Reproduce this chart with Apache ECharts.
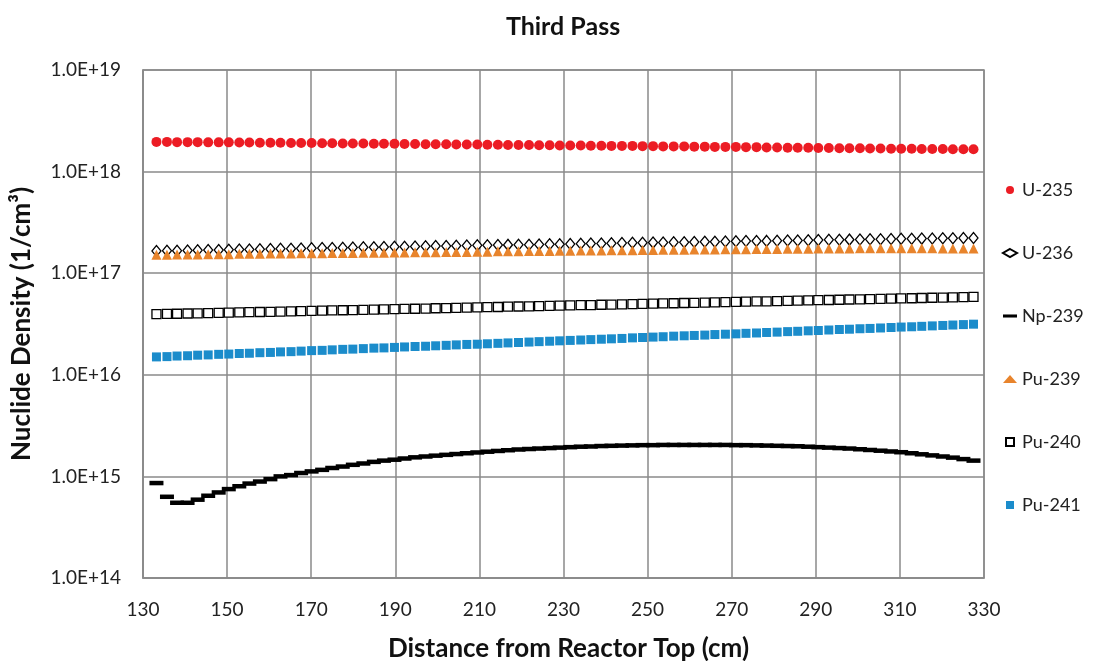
<!DOCTYPE html>
<html>
<head>
<meta charset="utf-8">
<script src="https://cdn.jsdelivr.net/npm/echarts@6/dist/echarts.min.js"></script>
<style>html,body{margin:0;padding:0;background:#fff}#c{width:1107px;height:661px}</style>
</head>
<body>
<div id="c"></div>
<script>
const title = 'Third Pass';
const xName = 'Distance from Reactor Top (cm)';
const yName = 'Nuclide Density (1/cm\u00B3)';
const seriesNames = ['U-235', 'U-236', 'Np-239', 'Pu-239', 'Pu-240', 'Pu-241'];

const distance = [
133.2,135.7,138.1,140.6,143.0,145.5,148.0,150.4,152.9,155.3,
157.8,160.3,162.7,165.2,167.6,170.1,172.6,175.0,177.5,179.9,
182.4,184.9,187.3,189.8,192.2,194.7,197.2,199.6,202.1,204.5,
207.0,209.5,211.9,214.4,216.8,219.3,221.8,224.2,226.7,229.1,
231.6,234.1,236.5,239.0,241.4,243.9,246.4,248.8,251.3,253.7,
256.2,258.7,261.1,263.6,266.0,268.5,271.0,273.4,275.9,278.3,
280.8,283.3,285.7,288.2,290.6,293.1,295.6,298.0,300.5,302.9,
305.4,307.9,310.3,312.8,315.2,317.7,320.2,322.6,325.1,327.5];

const u235 = [
1.96e18,1.96e18,1.95e18,1.95e18,1.95e18,1.94e18,1.94e18,1.94e18,1.93e18,1.93e18,
1.92e18,1.92e18,1.92e18,1.91e18,1.91e18,1.91e18,1.90e18,1.90e18,1.89e18,1.89e18,
1.89e18,1.88e18,1.88e18,1.88e18,1.87e18,1.87e18,1.86e18,1.86e18,1.86e18,1.85e18,
1.85e18,1.85e18,1.84e18,1.84e18,1.83e18,1.83e18,1.83e18,1.82e18,1.82e18,1.81e18,
1.81e18,1.81e18,1.80e18,1.80e18,1.79e18,1.79e18,1.79e18,1.78e18,1.78e18,1.77e18,
1.77e18,1.77e18,1.76e18,1.76e18,1.75e18,1.75e18,1.75e18,1.74e18,1.74e18,1.73e18,
1.73e18,1.72e18,1.72e18,1.72e18,1.71e18,1.71e18,1.70e18,1.70e18,1.70e18,1.69e18,
1.69e18,1.68e18,1.68e18,1.68e18,1.67e18,1.67e18,1.67e18,1.66e18,1.66e18,1.66e18];

const u236 = [
1.65e17,1.66e17,1.66e17,1.67e17,1.68e17,1.69e17,1.69e17,1.70e17,1.71e17,1.71e17,
1.72e17,1.73e17,1.74e17,1.74e17,1.75e17,1.76e17,1.77e17,1.77e17,1.78e17,1.79e17,
1.80e17,1.80e17,1.81e17,1.82e17,1.82e17,1.83e17,1.84e17,1.85e17,1.85e17,1.86e17,
1.87e17,1.88e17,1.88e17,1.89e17,1.90e17,1.91e17,1.91e17,1.92e17,1.93e17,1.93e17,
1.94e17,1.95e17,1.96e17,1.96e17,1.97e17,1.98e17,1.99e17,1.99e17,2.00e17,2.01e17,
2.02e17,2.02e17,2.03e17,2.04e17,2.04e17,2.05e17,2.06e17,2.07e17,2.07e17,2.08e17,
2.09e17,2.10e17,2.10e17,2.11e17,2.12e17,2.13e17,2.13e17,2.14e17,2.15e17,2.16e17,
2.16e17,2.17e17,2.18e17,2.18e17,2.19e17,2.20e17,2.21e17,2.21e17,2.22e17,2.22e17];

const np239 = [
8.6e14,6.3e14,5.5e14,5.5e14,5.9e14,6.45e14,6.95e14,7.5e14,8.0e14,8.5e14,
8.9e14,9.4e14,1.00e15,1.03e15,1.08e15,1.12e15,1.16e15,1.21e15,1.25e15,1.30e15,
1.34e15,1.39e15,1.43e15,1.46e15,1.50e15,1.54e15,1.57e15,1.60e15,1.63e15,1.66e15,
1.69e15,1.72e15,1.75e15,1.78e15,1.81e15,1.84e15,1.86e15,1.88e15,1.90e15,1.92e15,
1.94e15,1.96e15,1.97e15,1.99e15,2.00e15,2.01e15,2.02e15,2.03e15,2.03e15,2.04e15,
2.04e15,2.04e15,2.04e15,2.04e15,2.04e15,2.04e15,2.03e15,2.03e15,2.02e15,2.01e15,
2.00e15,1.99e15,1.98e15,1.96e15,1.94e15,1.92e15,1.90e15,1.88e15,1.85e15,1.82e15,
1.79e15,1.76e15,1.73e15,1.69e15,1.65e15,1.61e15,1.57e15,1.53e15,1.48e15,1.43e15];

const pu239 = [
1.52e17,1.52e17,1.53e17,1.53e17,1.53e17,1.54e17,1.54e17,1.54e17,1.55e17,1.55e17,
1.55e17,1.56e17,1.56e17,1.56e17,1.57e17,1.57e17,1.57e17,1.58e17,1.58e17,1.58e17,
1.59e17,1.59e17,1.59e17,1.60e17,1.60e17,1.61e17,1.61e17,1.61e17,1.62e17,1.62e17,
1.62e17,1.63e17,1.63e17,1.64e17,1.64e17,1.64e17,1.65e17,1.65e17,1.65e17,1.66e17,
1.66e17,1.67e17,1.67e17,1.67e17,1.68e17,1.68e17,1.68e17,1.69e17,1.69e17,1.70e17,
1.70e17,1.70e17,1.71e17,1.71e17,1.71e17,1.72e17,1.72e17,1.72e17,1.73e17,1.73e17,
1.73e17,1.74e17,1.74e17,1.74e17,1.75e17,1.75e17,1.75e17,1.75e17,1.76e17,1.76e17,
1.76e17,1.76e17,1.76e17,1.76e17,1.76e17,1.76e17,1.75e17,1.75e17,1.75e17,1.75e17];

const pu240 = [
3.95e16,3.97e16,3.99e16,4.01e16,4.03e16,4.05e16,4.07e16,4.09e16,4.11e16,4.13e16,
4.15e16,4.17e16,4.19e16,4.21e16,4.23e16,4.25e16,4.28e16,4.30e16,4.32e16,4.34e16,
4.36e16,4.38e16,4.40e16,4.43e16,4.45e16,4.47e16,4.49e16,4.52e16,4.54e16,4.56e16,
4.58e16,4.61e16,4.63e16,4.65e16,4.68e16,4.70e16,4.72e16,4.75e16,4.77e16,4.79e16,
4.82e16,4.84e16,4.86e16,4.89e16,4.91e16,4.94e16,4.96e16,4.99e16,5.01e16,5.04e16,
5.06e16,5.09e16,5.11e16,5.14e16,5.16e16,5.19e16,5.22e16,5.24e16,5.27e16,5.29e16,
5.32e16,5.35e16,5.37e16,5.40e16,5.43e16,5.45e16,5.48e16,5.51e16,5.53e16,5.56e16,
5.59e16,5.62e16,5.65e16,5.67e16,5.70e16,5.73e16,5.76e16,5.79e16,5.82e16,5.85e16];

const pu241 = [
1.50e16,1.51e16,1.53e16,1.54e16,1.56e16,1.57e16,1.59e16,1.60e16,1.62e16,1.63e16,
1.65e16,1.66e16,1.68e16,1.69e16,1.71e16,1.73e16,1.74e16,1.76e16,1.78e16,1.79e16,
1.81e16,1.83e16,1.84e16,1.86e16,1.88e16,1.90e16,1.91e16,1.93e16,1.95e16,1.97e16,
1.99e16,2.00e16,2.02e16,2.04e16,2.06e16,2.08e16,2.10e16,2.12e16,2.14e16,2.16e16,
2.18e16,2.20e16,2.22e16,2.24e16,2.26e16,2.28e16,2.31e16,2.33e16,2.35e16,2.37e16,
2.40e16,2.42e16,2.44e16,2.46e16,2.49e16,2.51e16,2.53e16,2.56e16,2.58e16,2.61e16,
2.63e16,2.66e16,2.68e16,2.71e16,2.73e16,2.76e16,2.79e16,2.81e16,2.84e16,2.86e16,
2.89e16,2.92e16,2.95e16,2.97e16,3.00e16,3.03e16,3.06e16,3.09e16,3.12e16,3.15e16];

const values = [u235, u236, np239, pu239, pu240, pu241];
const pairs = v => distance.map((d, i) => [d, v[i]]);

const FONT = 'Lato, "Open Sans", sans-serif';
const styles = [
  { symbol: 'circle', symbolSize: 10, itemStyle: { color: '#ec1c24', opacity: 1 } },
  { symbol: 'diamond', symbolSize: [9, 11], itemStyle: { color: '#ffffff', borderColor: '#000', borderWidth: 1.3, opacity: 1 } },
  { symbol: 'rect', symbolSize: [14, 4.5], itemStyle: { color: '#000', opacity: 1 } },
  { symbol: 'triangle', symbolSize: 10, itemStyle: { color: '#e8842c', opacity: 1 } },
  { symbol: 'rect', symbolSize: 9, itemStyle: { color: '#ffffff', borderColor: '#000', borderWidth: 1.3, opacity: 1 } },
  { symbol: 'rect', symbolSize: 9, itemStyle: { color: '#1b8ccb', opacity: 1 } }
];
const SQ = 'path://M0,0H10V10H0Z';
const legendIcons = ['circle', 'diamond', 'path://M0,0H16V3.5H0Z', 'triangle', SQ, SQ];

const chart = echarts.init(document.getElementById('c'), null, { renderer: 'canvas' });
chart.setOption({
  animation: false,
  backgroundColor: '#fff',
  title: {
    text: title, left: 558, top: 9, textAlign: 'center',
    textStyle: { fontFamily: FONT, fontWeight: 'bold', fontSize: 25, color: '#111' }
  },
  grid: { left: 143, right: 123, top: 70, bottom: 83, show: true, borderColor: '#8a8a8a', borderWidth: 1.5, containLabel: false, outerBoundsMode: 'none' },
  legend: {
    orient: 'vertical', left: 997, top: 175, itemGap: 43, itemWidth: 14, itemHeight: 8,
    textStyle: { fontFamily: FONT, fontSize: 18, color: '#222', lineHeight: 20 },
    data: seriesNames.map((n, i) => ({ name: n, icon: legendIcons[i] }))
  },
  xAxis: {
    type: 'value', min: 130, max: 330, interval: 20,
    name: xName, nameLocation: 'middle', nameGap: 58,
    nameTextStyle: { fontFamily: FONT, fontWeight: 'bold', fontSize: 26, color: '#111', padding: [0, 0, 0, 10] },
    axisLine: { show: true, lineStyle: { color: '#8a8a8a', width: 1.5 } },
    axisTick: { show: false },
    axisLabel: { fontFamily: FONT, fontSize: 19, color: '#222', margin: 22 },
    splitLine: { show: true, lineStyle: { color: '#8a8a8a', width: 1.5 } }
  },
  yAxis: {
    type: 'log', logBase: 10, min: 1e14, max: 1e19,
    name: yName, nameLocation: 'middle', nameGap: 108,
    nameTextStyle: { fontFamily: FONT, fontWeight: 'bold', fontSize: 26, color: '#111' },
    axisLine: { show: true, lineStyle: { color: '#8a8a8a', width: 1.5 } },
    axisTick: { show: false },
    axisLabel: {
      fontFamily: FONT, fontSize: 19, color: '#222', margin: 22,
      formatter: v => '1.0E+' + Math.round(Math.log10(v))
    },
    splitLine: { show: true, lineStyle: { color: '#8a8a8a', width: 1.5 } }
  },
  series: seriesNames.map((n, i) => Object.assign({
    name: n, type: 'scatter', data: pairs(values[i])
  }, styles[i]))
});
</script>
</body>
</html>
